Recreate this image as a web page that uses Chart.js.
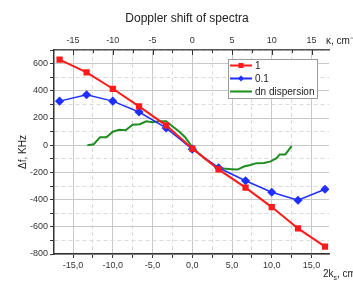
<!DOCTYPE html>
<html>
<head>
<meta charset="utf-8">
<script src="https://cdn.jsdelivr.net/npm/chart.js@4.4.0/dist/chart.umd.min.js"></script>
<style>
  html, body { margin: 0; padding: 0; background: #fff; }
</style>
</head>
<body>
<canvas id="chart" width="353" height="287"></canvas>
<script>
// values
const kValues = [-16.7, -13.3, -10, -6.7, -3.3, 0, 3.3, 6.7, 10, 13.3, 16.7];
const shift1 = [629, 536, 415, 285, 146, -25, -178, -312, -455, -612, -746];
const shift01 = [324, 371, 324, 244, 127, -29, -166, -261, -346, -405, -324];

const dnK = [-13.2, -12.4, -11.6, -10.8, -10.0, -9.2, -8.4, -7.5, -6.6, -5.8, -5.0, -4.2, -3.3, -2.5,
             -1.7, -0.9, -0.1, 0.8, 1.6, 2.4, 3.2, 4.0, 4.9, 5.7, 6.5, 7.3, 8.1, 9.0, 9.8, 10.6, 11.0, 11.7, 12.5];
const dnShift = [0, 7, 59, 59, 99, 113, 110, 150, 154, 176, 168, 176, 176, 139,
                 102, 59, -7, -59, -99, -132, -165, -172, -176, -179, -157, -146, -132, -130, -121, -95, -68, -68, -7];

const seriesNames = ['1', '0.1', 'dn dispersion'];
const seriesColors = ['#ff1a1a', '#1f2fff', '#1f8c1f'];
const chartTitle = 'Doppler shift of spectra';

const FONT = "'Liberation Sans', Arial, sans-serif";

function toPoints(xs, ys) {
    return xs.map((x, i) => ({ x: x, y: ys[i] }));
}

function isMajor(v, step) {
    return Math.abs(v / step - Math.round(v / step)) < 1e-6;
}

// dashed minor grid, solid major grid
function gridDash(step) {
    return ctx => (ctx.tick && !isMajor(ctx.tick.value, step)) ? [4, 3] : [];
}
function gridColor(step) {
    return ctx => (ctx.tick && !isMajor(ctx.tick.value, step)) ? '#dadada' : '#c8c8c8';
}

const extras = {
    id: 'extras',
    afterDraw(chart) {
        const c = chart.ctx;
        const top = chart.scales.x2;
        c.save();
        // inward ticks on the top axis
        c.strokeStyle = '#333';
        c.lineWidth = 1;
        top.ticks.forEach(t => {
            const px = Math.round(top.getPixelForValue(t.value)) + 0.5;
            const len = isMajor(t.value, 5) ? 5 : 3;
            c.beginPath();
            c.moveTo(px, top.bottom);
            c.lineTo(px, top.bottom + len);
            c.stroke();
        });

        // title
        c.fillStyle = '#222';
        c.textAlign = 'center';
        c.textBaseline = 'alphabetic';
        c.font = '12px ' + FONT;
        c.fillText(chartTitle, 187, 22);
        c.textAlign = 'left';

        // axis names
        c.font = '10px ' + FONT;
        c.fillText('2k', 323, 277);
        let w = c.measureText('2k').width;
        c.font = '7px ' + FONT;
        c.fillText('s', 323 + w, 280);
        w += c.measureText('s').width;
        c.font = '10px ' + FONT;
        c.fillText(', cm', 323 + w, 277);
        c.fillText('\u03ba, cm\u207b\u00b9', 326, 44);

        // legend
        const lx = 228, ly = 59, lw = 89, lh = 39;
        c.fillStyle = '#fff';
        c.fillRect(lx, ly, lw, lh);
        c.strokeStyle = '#9a9a9a';
        c.lineWidth = 1;
        c.strokeRect(lx + 0.5, ly + 0.5, lw, lh);
        const rows = [65.5, 78.5, 91.5];
        chart.data.datasets.forEach((ds, i) => {
            const y = rows[i];
            c.strokeStyle = ds.borderColor;
            c.lineWidth = 2;
            c.beginPath();
            c.moveTo(230, y);
            c.lineTo(252, y);
            c.stroke();
            c.fillStyle = ds.borderColor;
            if (ds.pointStyle === 'rect') {
                c.fillRect(238.5, y - 2.5, 5, 5);
            } else if (ds.pointStyle === 'rectRot') {
                c.beginPath();
                c.moveTo(241, y - 3);
                c.lineTo(244, y);
                c.lineTo(241, y + 3);
                c.lineTo(238, y);
                c.closePath();
                c.fill();
            }
            c.fillStyle = '#222';
            c.font = '10px ' + FONT;
            c.textBaseline = 'middle';
            c.fillText(ds.label, 255, y + 1);
        });
        c.restore();
    }
};

new Chart(document.getElementById('chart'), {
    type: 'scatter',
    data: {
        datasets: [
            {
                label: seriesNames[0],
                data: toPoints(kValues, shift1),
                showLine: true,
                borderColor: seriesColors[0],
                backgroundColor: seriesColors[0],
                borderWidth: 2,
                pointStyle: 'rect',
                pointRadius: 3,
                order: 1
            },
            {
                label: seriesNames[1],
                data: toPoints(kValues, shift01),
                showLine: true,
                borderColor: seriesColors[1],
                backgroundColor: seriesColors[1],
                borderWidth: 1.5,
                pointStyle: 'rectRot',
                pointRadius: 3.5,
                order: 2
            },
            {
                label: seriesNames[2],
                data: toPoints(dnK, dnShift),
                showLine: true,
                borderColor: seriesColors[2],
                backgroundColor: seriesColors[2],
                borderWidth: 2,
                pointRadius: 0,
                order: 3
            }
        ]
    },
    options: {
        responsive: false,
        animation: false,
        layout: { padding: { left: 0, right: 24, top: 0, bottom: 0 } },
        plugins: {
            legend: { display: false },
            tooltip: { enabled: false },
            title: { display: false }
        },
        scales: {
            x: {
                type: 'linear',
                position: 'bottom',
                min: -17.4,
                max: 17.2,
                afterFit: s => { s.height = 33; },
                ticks: {
                    stepSize: 2.5,
                    includeBounds: false,
                    autoSkip: false,
                    maxRotation: 0,
                    padding: 2,
                    color: '#333',
                    font: { family: FONT, size: 9 },
                    callback: v => isMajor(v, 5) ? v.toFixed(1).replace('.', ',') : ''
                },
                grid: {
                    color: gridColor(5),
                    tickColor: '#333',
                    tickLength: 4,
                    lineWidth: 1
                },
                border: { color: '#333', width: 1.5, dash: gridDash(5) }
            },
            x2: {
                type: 'linear',
                position: 'top',
                min: -17.4,
                max: 17.2,
                afterFit: s => { s.height = 50; },
                ticks: {
                    stepSize: 2.5,
                    includeBounds: false,
                    autoSkip: false,
                    maxRotation: 0,
                    padding: 4,
                    color: '#333',
                    font: { family: FONT, size: 9 },
                    callback: v => isMajor(v, 5) ? String(v) : ''
                },
                grid: { drawOnChartArea: false, drawTicks: false },
                border: { color: '#555', width: 1.5 }
            },
            y: {
                type: 'linear',
                min: -800,
                max: 700,
                afterFit: s => { s.width = 54; },
                ticks: {
                    stepSize: 100,
                    includeBounds: false,
                    autoSkip: false,
                    padding: 2,
                    color: '#333',
                    font: { family: FONT, size: 9 },
                    callback: v => isMajor(v, 200) ? String(v) : ''
                },
                grid: {
                    color: gridColor(200),
                    tickColor: '#333',
                    tickLength: 4,
                    lineWidth: 1
                },
                border: { color: '#333', width: 1.5, dash: gridDash(200) },
                title: {
                    display: true,
                    text: '\u0394f, KHz',
                    color: '#222',
                    font: { family: FONT, size: 10 },
                    padding: { top: 17, bottom: 0 }
                }
            }
        }
    },
    plugins: [extras]
});
</script>
</body>
</html>
